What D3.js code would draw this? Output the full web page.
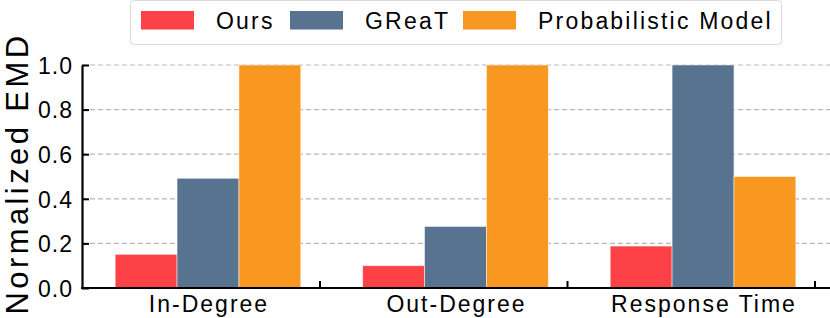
<!DOCTYPE html>
<html>
<head>
<meta charset="utf-8">
<script src="https://cdn.jsdelivr.net/npm/d3@7"></script>
<style>
    body { margin: 0; background: #fff; }
    text { font-family: "Liberation Sans", Arial, sans-serif; fill: #000; }
</style>
</head>
<body>
<div id="chart"></div>
<script>
// data
const categories = ["In-Degree", "Out-Degree", "Response Time"]
const seriesNames = ["Ours", "GReaT", "Probabilistic Model"]
const ours = [0.151, 0.100, 0.188]
const great = [0.492, 0.276, 1.0]
const probabilistic = [1.0, 1.0, 0.5]
const yTicks = [0.0, 0.2, 0.4, 0.6, 0.8, 1.0]

const seriesValues = [ours, great, probabilistic]
const colors = ["#fc4246", "#57738f", "#f89820"]

const width = 830, height = 318
const margin = { top: 65, right: 0, bottom: 30, left: 82 }

const svg = d3.select("#chart").append("svg")
    .attr("width", width)
    .attr("height", height)

// scales
const x = d3.scaleLinear()
    .domain([-0.509, 2.513])
    .range([margin.left, width - margin.right])

const y = d3.scaleLinear()
    .domain([0, 1])
    .range([height - margin.bottom, margin.top])

const barW = 0.25

// grid lines
svg.append("g")
    .selectAll("line")
    .data(yTicks.filter(d => d > 0))
    .enter().append("line")
    .attr("x1", margin.left)
    .attr("x2", width)
    .attr("y1", d => y(d))
    .attr("y2", d => y(d))
    .attr("stroke", "#b8b8b8")
    .attr("stroke-width", 1.2)
    .attr("stroke-dasharray", "5,3")

// bars
seriesValues.forEach((vals, s) => {
    svg.append("g")
        .selectAll("rect")
        .data(vals)
        .enter().append("rect")
        .attr("x", (d, i) => x(i + (s - 1) * barW - barW / 2))
        .attr("width", x(barW) - x(0))
        .attr("y", d => y(d))
        .attr("height", d => y(0) - y(d))
        .attr("fill", colors[s])
        .attr("stroke", "#fff")
        .attr("stroke-opacity", 0.6)
        .attr("stroke-width", 0.8)
})

// y axis
const yAxis = d3.axisLeft(y)
    .tickValues(yTicks)
    .tickFormat(d3.format(".1f"))
    .tickSizeInner(-7)
    .tickSizeOuter(0)
    .tickPadding(9)

const gy = svg.append("g")
    .attr("transform", "translate(" + margin.left + ",0)")
    .call(yAxis)
gy.select(".domain").attr("stroke", "#000").attr("stroke-width", 2.2)
gy.selectAll(".tick line").attr("stroke", "#000").attr("stroke-width", 2)
gy.selectAll(".tick text")
    .attr("font-size", "23px")
    .attr("font-family", "Liberation Sans, Arial, sans-serif")
    .attr("letter-spacing", "1px")
    .attr("dy", "0.36em")

// x axis line
svg.append("line")
    .attr("x1", margin.left - 1)
    .attr("x2", width)
    .attr("y1", y(0))
    .attr("y2", y(0))
    .attr("stroke", "#000")
    .attr("stroke-width", 2.2)

// x ticks (inward)
svg.append("g")
    .selectAll("line")
    .data(categories.map((c, i) => i + 0.4525))
    .enter().append("line")
    .attr("x1", d => x(d))
    .attr("x2", d => x(d))
    .attr("y1", y(0))
    .attr("y2", y(0) - 7)
    .attr("stroke", "#000")
    .attr("stroke-width", 2)

// x labels
svg.append("g")
    .selectAll("text")
    .data(categories)
    .enter().append("text")
    .attr("x", (d, i) => x(i) + 1)
    .attr("y", y(0) + 24)
    .attr("text-anchor", "middle")
    .attr("font-size", "23px")
    .attr("letter-spacing", "2px")
    .text(d => d)

// y label
svg.append("text")
    .attr("transform", "translate(28," + ((y(0) + y(1)) / 2 - 3) + ") rotate(-90)")
    .attr("text-anchor", "middle")
    .attr("font-size", "31px")
    .attr("letter-spacing", "3.4px")
    .text("Normalized EMD")

// legend
const legend = svg.append("g")
legend.append("rect")
    .attr("x", 130.5)
    .attr("y", 0.5)
    .attr("width", 651)
    .attr("height", 44)
    .attr("rx", 4)
    .attr("fill", "#fff")
    .attr("stroke", "#d8d8d8")
    .attr("stroke-width", 1)

const legendX = [141, 290, 463]
seriesNames.forEach((name, s) => {
    legend.append("rect")
        .attr("x", legendX[s])
        .attr("y", 11)
        .attr("width", 53)
        .attr("height", 18.5)
        .attr("fill", colors[s])
    legend.append("text")
        .attr("x", legendX[s] + 75)
        .attr("y", 29)
        .attr("font-size", "23px")
        .attr("letter-spacing", "2.2px")
        .text(name)
})
</script>
</body>
</html>
